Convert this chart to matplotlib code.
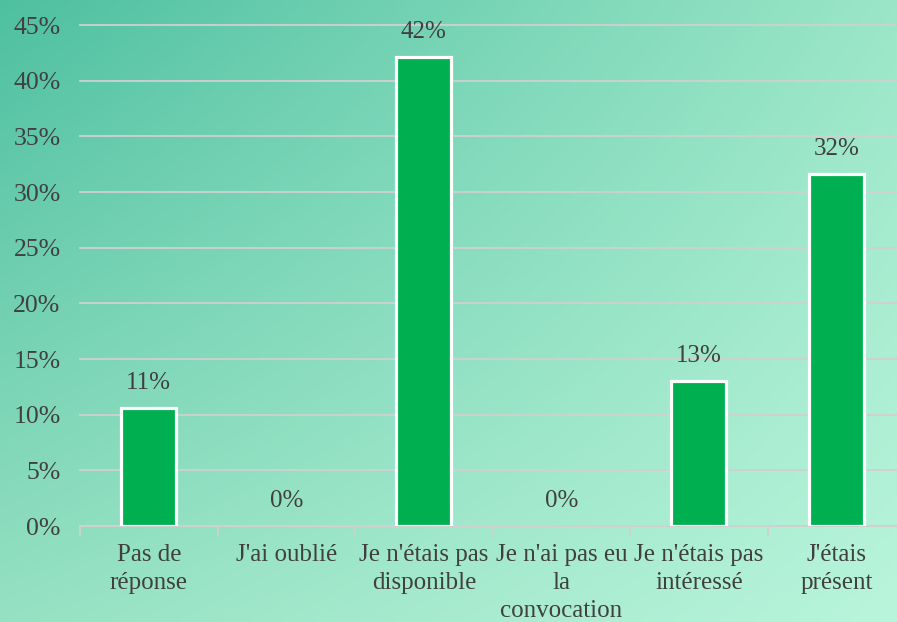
import numpy as np
import matplotlib.pyplot as plt

# data
categories = ["Pas de\nréponse", "J'ai oublié", "Je n'étais pas\ndisponible",
              "Je n'ai pas eu\nla\nconvocation", "Je n'étais pas\nintéressé",
              "J'étais\nprésent"]
values = [10.6, 0, 42.1, 0, 13.0, 31.6]
yticks = [0, 5, 10, 15, 20, 25, 30, 35, 40, 45]

plt.rcParams['font.family'] = ['Liberation Serif', 'DejaVu Serif']
text_col = '#404040'
grid_col = '#D0D0D0'

fig = plt.figure(figsize=(8.97, 6.22), dpi=100)

# gradient background (bilinear between the four corners)
tl = np.array([78, 192, 160]) / 255
tr = np.array([155, 230, 200]) / 255
bl = np.array([150, 225, 195]) / 255
br = np.array([185, 245, 220]) / 255
u = np.linspace(0, 1, 300)[None, :, None]
v = np.linspace(0, 1, 200)[:, None, None]
grad = (1 - v) * ((1 - u) * tl + u * tr) + v * ((1 - u) * bl + u * br)
bg = fig.add_axes([0, 0, 1, 1])
bg.imshow(grad, aspect='auto', extent=[0, 1, 0, 1])
bg.axis('off')

ax = fig.add_axes([0.0892, 0.1543, 0.920, 0.8055])
ax.set_facecolor('none')

x = np.arange(len(categories))
lws = [2.3 if val > 0 else 0 for val in values]
ax.bar(x, values, width=0.40, color='#00B050', edgecolor='white',
       linewidth=lws, zorder=3)

for xi, val in zip(x, values):
    ax.annotate("{:.0f}%".format(val), (xi, val), xytext=(0, 10),
                textcoords='offset points', ha='center', va='bottom',
                fontsize=18, color=text_col, zorder=4)

ax.set_xlim(-0.5, len(categories) - 0.5)
ax.set_ylim(0, 45)
ax.set_yticks(yticks)
ax.set_yticklabels(["{}%".format(t) for t in yticks])
ax.yaxis.grid(True, color=grid_col, linewidth=1.3, zorder=0)
for gl in ax.get_ygridlines():
    gl.set_clip_on(False)
ax.set_axisbelow(True)

ax.set_xticks(x)
ax.set_xticklabels(categories, linespacing=1.35)
ax.set_xticks(np.arange(len(categories) + 1) - 0.5, minor=True)
ax.tick_params(axis='x', which='major', length=0, pad=13, labelsize=18,
               labelcolor=text_col)
ax.tick_params(axis='x', which='minor', length=7, width=1.3, color=grid_col)
ax.tick_params(axis='y', length=0, pad=14, labelsize=18.5, labelcolor=text_col)

for s in ['top', 'right', 'left']:
    ax.spines[s].set_visible(False)
ax.spines['bottom'].set_color(grid_col)
ax.spines['bottom'].set_linewidth(1.3)

fig.savefig('out.png', dpi=100)
